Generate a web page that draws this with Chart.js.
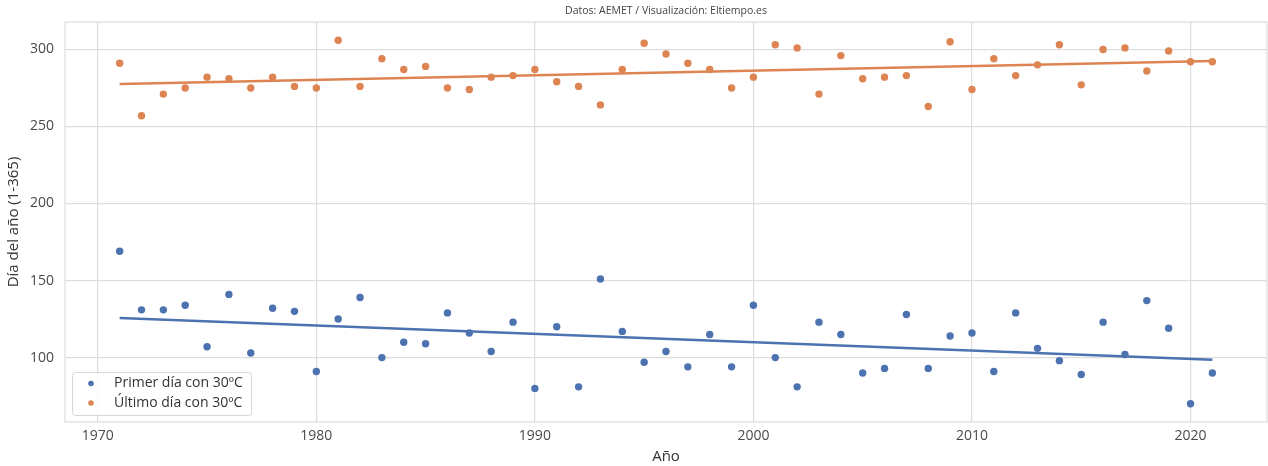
<!DOCTYPE html>
<html>
<head>
<meta charset="utf-8">
<script src="https://cdn.jsdelivr.net/npm/chart.js@4"></script>
<style>
  html, body { margin: 0; padding: 0; background: #fff; }
  #wrap { width: 1268px; height: 466px; }
</style>
</head>
<body>
<div id="wrap"><canvas id="chart" width="1268" height="466"></canvas></div>
<script>
const years = [];
for (let y = 1971; y <= 2021; y++) years.push(y);

// first day of the year reaching 30ºC
const firstDay = [169, 131, 131, 134, 107, 141, 103, 132, 130, 91,
                  125, 139, 100, 110, 109, 129, 116, 104, 123, 80,
                  120, 81, 151, 117, 97, 104, 94, 115, 94, 134,
                  100, 81, 123, 115, 90, 93, 128, 93, 114, 116,
                  91, 129, 106, 98, 89, 123, 102, 137, 119, 70,
                  90];

// last day of the year reaching 30ºC
const lastDay = [291, 257, 271, 275, 282, 281, 275, 282, 276, 275,
                 306, 276, 294, 287, 289, 275, 274, 282, 283, 287,
                 279, 276, 264, 287, 304, 297, 291, 287, 275, 282,
                 303, 301, 271, 296, 281, 282, 283, 263, 305, 274,
                 294, 283, 290, 303, 277, 300, 301, 286, 299, 292,
                 292];

const xTicks = [1970, 1980, 1990, 2000, 2010, 2020];
const yTicks = [100, 150, 200, 250, 300];

const seriesNames = ['Primer día con 30ºC', 'Último día con 30ºC'];
const BLUE = '#4c72b0';
const ORANGE = '#dd8452';
const GRID = '#dddddd';
const TEXT = '#4a4a4a';
const FONT = '"Open Sans", "DejaVu Sans", sans-serif';

function toPoints(vals) {
  return years.map((y, i) => ({ x: y, y: vals[i] }));
}

// least squares trend, evaluated at first and last year
function trend(vals) {
  const n = years.length;
  const mx = years.reduce((a, b) => a + b, 0) / n;
  const my = vals.reduce((a, b) => a + b, 0) / n;
  let sxy = 0, sxx = 0;
  years.forEach((x, i) => {
    sxy += (x - mx) * (vals[i] - my);
    sxx += (x - mx) * (x - mx);
  });
  const slope = sxy / sxx;
  const x0 = years[0], x1 = years[n - 1];
  return [
    { x: x0, y: my + slope * (x0 - mx) },
    { x: x1, y: my + slope * (x1 - mx) }
  ];
}

// full light frame around the plot + legend box in the lower left
const framePlugin = {
  id: 'frame',
  beforeDatasetsDraw(chart) {
    const { ctx, chartArea: a } = chart;
    ctx.save();
    ctx.strokeStyle = GRID;
    ctx.lineWidth = 1.2;
    ctx.strokeRect(a.left, a.top, a.right - a.left, a.bottom - a.top);
    ctx.restore();
  },
  afterDraw(chart) {
    const { ctx, chartArea: a } = chart;
    const bx = a.left + 7, by = a.bottom - 50, bw = 179, bh = 43;
    ctx.save();
    ctx.fillStyle = 'rgba(255,255,255,0.85)';
    ctx.strokeStyle = '#d6d6d6';
    ctx.lineWidth = 1;
    ctx.beginPath();
    ctx.roundRect(bx + 0.5, by + 0.5, bw, bh, 3);
    ctx.fill();
    ctx.stroke();
    const colors = [BLUE, ORANGE];
    ctx.font = '14px ' + FONT;
    ctx.textBaseline = 'middle';
    ctx.textAlign = 'left';
    seriesNames.forEach((name, i) => {
      const cy = by + 11.5 + i * 19.5;
      ctx.fillStyle = colors[i];
      ctx.beginPath();
      ctx.arc(bx + 19, cy, 2.8, 0, Math.PI * 2);
      ctx.fill();
      ctx.fillStyle = '#333';
      ctx.fillText(name, bx + 42, cy);
    });
    ctx.restore();
  }
};

const ctx = document.getElementById('chart').getContext('2d');
new Chart(ctx, {
  type: 'scatter',
  data: {
    datasets: [
      {
        label: seriesNames[0],
        data: toPoints(firstDay),
        backgroundColor: BLUE,
        borderColor: BLUE,
        pointRadius: 3.7,
        pointBorderWidth: 0,
        order: 1
      },
      {
        label: seriesNames[1],
        data: toPoints(lastDay),
        backgroundColor: ORANGE,
        borderColor: ORANGE,
        pointRadius: 3.7,
        pointBorderWidth: 0,
        order: 1
      },
      {
        type: 'line',
        data: trend(firstDay),
        borderColor: BLUE,
        borderWidth: 2.5,
        pointRadius: 0,
        fill: false,
        order: 2
      },
      {
        type: 'line',
        data: trend(lastDay),
        borderColor: ORANGE,
        borderWidth: 2.5,
        pointRadius: 0,
        fill: false,
        order: 2
      }
    ]
  },
  options: {
    responsive: false,
    animation: false,
    layout: { autoPadding: false, padding: { left: 0, right: 1, top: 0, bottom: 0 } },
    plugins: {
      legend: { display: false },
      tooltip: { enabled: false },
      title: {
        display: true,
        fullSize: false,
        text: 'Datos: AEMET / Visualización: Eltiempo.es',
        color: '#444',
        font: { family: FONT, size: 10.5, weight: 'normal' },
        padding: { top: 5, bottom: 4.4 }
      }
    },
    scales: {
      x: {
        type: 'linear',
        min: 1968.5,
        max: 2023.5,
        afterBuildTicks(scale) {
          scale.ticks = xTicks.map(v => ({ value: v }));
        },
        afterFit(scale) { scale.height = 44; },
        grid: { color: GRID, lineWidth: 1.2, drawTicks: false },
        border: { display: false },
        ticks: {
          color: TEXT,
          font: { family: FONT, size: 14 },
          padding: 6,
          maxRotation: 0,
          callback: v => String(v)
        },
        title: {
          display: true,
          text: 'Año',
          color: '#333',
          font: { family: FONT, size: 15 },
          padding: { top: 0, bottom: 0 }
        }
      },
      y: {
        type: 'linear',
        min: 58.2,
        max: 317.8,
        afterBuildTicks(scale) {
          scale.ticks = yTicks.map(v => ({ value: v }));
        },
        afterFit(scale) { scale.width = 65; },
        grid: { color: GRID, lineWidth: 1.2, drawTicks: false },
        border: { display: false },
        ticks: {
          color: TEXT,
          font: { family: FONT, size: 14 },
          padding: 11,
          callback: v => String(v)
        },
        title: {
          display: true,
          text: 'Día del año (1-365)',
          color: '#333',
          font: { family: FONT, size: 15 },
          padding: { top: 5, bottom: 0 }
        }
      }
    }
  },
  plugins: [framePlugin]
});
</script>
</body>
</html>
